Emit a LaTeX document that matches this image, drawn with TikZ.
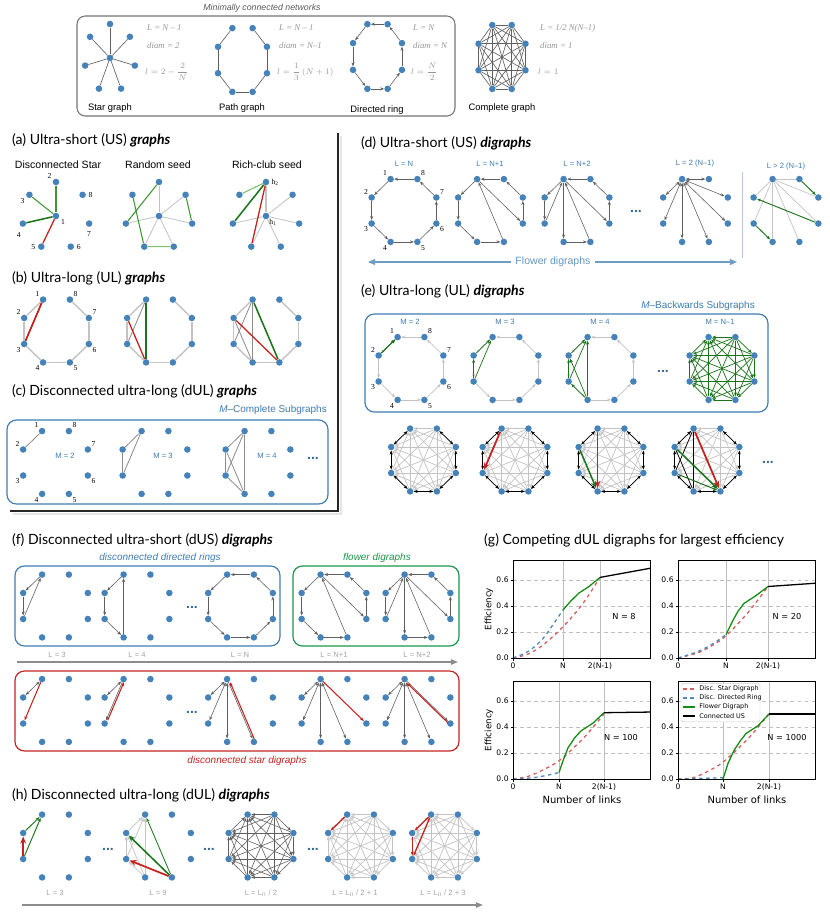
\documentclass[tikz,border=0pt]{standalone}
\usepackage{amsmath}
\usepackage[no-math]{fontspec}
\setmainfont{Liberation Sans}
\newfontfamily\numfont{Liberation Serif}
\newfontfamily\headfont{Lato}
\newfontfamily\mplfont{DejaVu Sans}
\usetikzlibrary{calc, positioning, arrows.meta}

\definecolor{dotblue}{RGB}{68,130,185}
\definecolor{boxblue}{RGB}{62,124,178}
\definecolor{edgegray}{RGB}{95,95,95}
\definecolor{midgray}{RGB}{140,140,140}
\definecolor{lightedge}{RGB}{195,195,195}
\definecolor{formgray}{RGB}{150,150,150}
\definecolor{dgreen}{RGB}{25,115,25}
\definecolor{mgreen}{RGB}{60,150,50}
\definecolor{lgreen}{RGB}{125,190,110}
\definecolor{dred}{RGB}{195,35,30}
\definecolor{fgreen}{RGB}{25,150,75}
\definecolor{plotred}{RGB}{214,95,95}
\definecolor{plotblue}{RGB}{80,135,195}
\definecolor{plotgreen}{RGB}{20,140,20}

\tikzset{
  vtx/.style={circle, fill=dotblue, inner sep=0pt, minimum size=5.6pt},
  numlbl/.style={font=\numfont\fontsize{6.5}{7}\selectfont, inner sep=0.5pt},
  ptitle/.style={anchor=west, inner sep=0pt, font=\headfont\fontsize{12}{14}\selectfont},
  formula/.style={anchor=west, inner sep=0pt, text=formgray, font=\numfont\itshape\fontsize{7.5}{9}\selectfont},
  gcap/.style={inner sep=0pt, font=\fontsize{8}{9}\selectfont},
  sublbl/.style={inner sep=0pt, text=boxblue, font=\fontsize{6.5}{8}\selectfont},
  llbl/.style={inner sep=0pt, text=midgray!80, font=\fontsize{6.5}{8}\selectfont},
  bdots/.style={inner sep=0pt, text=boxblue!85!black, font=\bfseries\fontsize{12}{12}\selectfont},
  gedge/.style={edgegray, line width=0.55pt},
  medge/.style={midgray, line width=0.7pt},
  pedge/.style={lightedge, line width=1.2pt},
  ledge/.style={lightedge, line width=0.7pt},
  arr/.style={-{Stealth[length=3.4pt,width=2.6pt]}},
  darr/.style={edgegray, line width=0.5pt, arr},
  larr/.style={lightedge, line width=0.6pt, arr},
  biarr/.style={edgegray, line width=0.5pt, {Stealth[length=3.4pt,width=2.6pt]}-{Stealth[length=3.4pt,width=2.6pt]}},
  karr/.style={black, line width=0.6pt, {Stealth[length=3.4pt,width=2.6pt]}-{Stealth[length=3.4pt,width=2.6pt]}},
  rline/.style={dred, line width=1.1pt},
  gline/.style={mgreen, line width=0.9pt},
  gdark/.style={dgreen, line width=1.3pt},
  glight/.style={lgreen, line width=0.9pt},
  rarr/.style={dred, line width=0.9pt, arr},
  rtarr/.style={dred, line width=1.5pt, -{Stealth[length=6pt,width=5pt]}},
  garr/.style={dgreen, line width=0.6pt, arr},
  gtarr/.style={dgreen, line width=1.3pt, -{Stealth[length=5.5pt,width=4.5pt]}},
  flarr/.style={boxblue!75, line width=1.2pt, -{Triangle[length=6pt,width=5pt]}},
  longarr/.style={midgray, line width=1.2pt, -{Triangle[length=6pt,width=4.5pt]}},
  gridc/.style={black!25, line width=0.5pt},
  tickl/.style={inner sep=1pt, font=\mplfont\fontsize{6.5}{7}\selectfont},
  curve/.style={line width=1.1pt},
}

% eight nodes on an octagon: [radii]{name}{x}{y}
\newcommand{\octo}[4][35 and 34]{%
  \foreach \k in {1,...,8}
    \node[vtx] (#2\k) at ($(#3,#4)+({-67.5-45*\k}:#1)$) {};
}
% node numbers round an octagon
\newcommand{\octnum}[1]{%
  \foreach \k/\d in {1/135,2/135,3/225,4/225,5/315,6/315,7/45,8/45}
    \node[numlbl] (#1n\k) at ($(#1\k)+(-\d:8)$) {\k};
}
% centre node and seven around it
\newcommand{\hepta}[3]{%
  \node[vtx] (#11) at (#2,#3) {};
  \foreach \k in {2,...,8}
    \node[vtx] (#1\k) at ($(#11)+({-90-51.43*(\k-2)}:34)$) {};
}
\newcommand{\allpairs}[2]{%
  \foreach \ii in {1,...,7}{
    \pgfmathtruncatemacro{\nxt}{\ii+1}
    \foreach \jj in {\nxt,...,8}
      \draw[#2] (#1\ii) -- (#1\jj);
  }}
\newcommand{\backpairs}[2]{%
  \foreach \ii in {1,...,7}{
    \pgfmathtruncatemacro{\nxt}{\ii+1}
    \foreach \jj in {\nxt,...,8}
      \draw[#2] (#1\jj) -- (#1\ii);
  }}
\newcommand{\upath}[2]{\foreach \ii/\jj in {1/2,2/3,3/4,4/5,5/6,6/7,7/8} \draw[#2] (#1\ii) -- (#1\jj);}
\newcommand{\dring}[2]{\foreach \ii/\jj in {8/1,1/2,2/3,3/4,4/5,5/6,6/7,7/8} \draw[#2] (#1\ii) -- (#1\jj);}
\newcommand{\flowerA}[1]{\foreach \ii/\jj in {8/1,1/2,2/3,3/4,4/5,5/1,1/6,6/7,7/8} \draw[darr] (#1\ii) -- (#1\jj);}
\newcommand{\flowerB}[1]{\foreach \ii/\jj in {8/1,1/2,2/3,3/1,1/4,4/5,5/1,1/6,6/7,7/8} \draw[darr] (#1\ii) -- (#1\jj);}
% frame, grid and ticks of an efficiency plot: {name}{x of N}{x of 2(N-1)}
\newcommand{\effaxes}[3]{%
  \foreach \v in {0.2,0.4,0.6}
    \draw[gridc, dashed] (0,\v) -- (137,\v);
  \draw[gridc] (#2,0) -- (#2,0.75);
  \draw[gridc] (#3,0) -- (#3,0.75);
  \foreach \v [count=\i] in {0.0,0.2,0.4,0.6}{
    \draw[line width=0.5pt] (0,\v) -- (-2.5,\v);
    \node[tickl, anchor=east] (#1y\i) at (-3,\v) {\v};
  }
  \foreach \x in {0,#2,#3}
    \draw[line width=0.5pt] (\x,0) -- (\x,-0.02);
  \node[tickl, anchor=north] (#1x1) at (0,-0.025) {0};
  \node[tickl, anchor=north] (#1x2) at (#2,-0.025) {N};
  \node[tickl, anchor=north] (#1x3) at (#3,-0.025) {2(N-1)};
}

\begin{document}
\begin{tikzpicture}[x=0.03cm, y=-0.03cm]
\useasboundingbox (0,0) rectangle (830,913);

%% ---------- Minimally connected networks ----------
\node[inner sep=0pt, text=black!65, font=\itshape\fontsize{7.5}{9}\selectfont] (tmin) at (262,8) {Minimally connected networks};
\draw[black!55, line width=0.9pt, rounded corners=7] (77,16) rectangle (455,116);

% star
\node[vtx] (sc) at (110,58) {};
\foreach \k in {1,...,7}
  \node[vtx] (s\k) at ($(sc)+({-90-51.43*(\k-1)}:25.5 and 34)$) {};
\foreach \k in {1,...,7} \draw[gedge] (sc) -- (s\k);
\node[formula] (fs1) at (147,28) {L = N – 1};
\node[formula] (fs2) at (147,45) {diam = 2};
\node[formula] (fs3) at (145,72) {$l = 2 - \dfrac{2}{N}$};
\node[gcap] (cs) at (110,108) {Star graph};

% path
\octo[26.5 and 34.5]{pg}{242.5}{60}
\upath{pg}{gedge}
\node[formula] (fp1) at (279,28) {L = N – 1};
\node[formula] (fp2) at (279,45) {diam = N–1};
\node[formula] (fp3) at (277,72) {$l = \dfrac{1}{3}\,(N+1)$};
\node[gcap] (cp) at (242,108) {Path graph};

% directed ring
\octo[26.5 and 35]{dr}{377.5}{56.5}
\dring{dr}{darr}
\node[formula] (fr1) at (413,28) {L = N};
\node[formula] (fr2) at (413,45) {diam = N};
\node[formula] (fr3) at (411,72) {$l = \dfrac{N}{2}$};
\node[gcap] (cr) at (377,110) {Directed ring};

% complete
\octo[25.4 and 34.6]{cg}{502}{57}
\allpairs{cg}{gedge}
\node[formula] (fc1) at (540,28) {L = 1/2 N(N–1)};
\node[formula] (fc2) at (540,45) {diam = 1};
\node[formula] (fc3) at (538,72) {$l = 1$};
\node[gcap] (cc) at (502,108) {Complete graph};

%% ---------- frame of (a)-(c) ----------
\draw[black!10, line width=2.5pt] (341,136) -- (341,514) -- (13,514);
\draw[black!85, line width=1pt] (338,133) -- (338,511) -- (10,511);

%% ---------- (a) ----------
\node[ptitle] (ta) at (12,140) {(a) Ultra-short (US) \textbf{\textit{graphs}}};
\node[gcap, font=\fontsize{9}{10}\selectfont] (a1) at (58,165) {Disconnected Star};
\node[gcap, font=\fontsize{9}{10}\selectfont] (a2) at (158,165) {Random seed};
\node[gcap, font=\fontsize{9}{10}\selectfont] (a3) at (267,165) {Rich-club seed};

\hepta{ds}{56}{216}
\hepta{rs}{159}{216}
\hepta{rc}{266}{216}

\node[numlbl, above left=0pt and 1pt of ds2] (dsn2) {2};
\node[numlbl, below left=0pt and 1.5pt of ds3] (dsn3) {3};
\node[numlbl, right=1.5pt of ds8] (dsn8) {8};
\node[numlbl, below right=0pt and 1.5pt of ds1] (dsn1) {1};
\node[numlbl, below left=5pt and -1pt of ds4] (dsn4) {4};
\node[numlbl, below=3pt of ds7] (dsn7) {7};
\node[numlbl, left=1.5pt of ds5] (dsn5) {5};
\node[numlbl, right=1.5pt of ds6] (dsn6) {6};

\draw[gline] (ds1) -- (ds2);
\draw[gline] (ds1) -- (ds3);
\draw[gdark] (ds1) -- (ds4);
\draw[rline] (ds1) -- (ds5);

\foreach \k in {2,4,5,6,7,8} \draw[ledge] (rs1) -- (rs\k);
\draw[gline] (rs3) -- (rs5);
\draw[gline] (rs2) -- (rs4);
\draw[gline] (rs8) -- (rs7);
\draw[glight] (rs5) -- (rs6);

\foreach \k in {4,5,6,7,8} \draw[ledge] (rc1) -- (rc\k);
\draw[lightedge, line width=1.3pt] (rc1) -- (rc2);
\draw[glight] (rc2) -- (rc3);
\draw[gdark] (rc2) -- (rc4);
\draw[rline] (rc2) -- (rc5);
\node[numlbl, right=1pt of rc2] (rch2) {h\textsubscript{2}};
\node[numlbl, below right=0pt and 0pt of rc1] (rch1) {h\textsubscript{1}};

%% ---------- (b) ----------
\node[ptitle] (tb) at (12,278) {(b) Ultra-long (UL) \textbf{\textit{graphs}}};
\octo{ba}{56.5}{331}
\octo{bb}{159.5}{331}
\octo{bc}{266}{331}
\octnum{ba}
\foreach \p in {ba,bb,bc} \upath{\p}{pedge}
\draw[rline] (ba1) -- (ba3);
\draw[medge] (bb1) -- (bb3);
\draw[rline] (bb2) -- (bb4);
\draw[gdark] (bb1) -- (bb4);
\draw[medge] (bc1) -- (bc3);
\draw[medge] (bc2) -- (bc4);
\draw[medge] (bc1) -- (bc4);
\draw[rline] (bc2) -- (bc5);
\draw[gdark] (bc1) -- (bc5);

%% ---------- (c) ----------
\node[ptitle] (tc) at (12,391) {(c) Disconnected ultra-long (dUL) \textbf{\textit{graphs}}};
\node[sublbl, anchor=east, font=\fontsize{8.5}{10}\selectfont] (mcs) at (327,410) {\textit{M}–Complete Subgraphs};
\draw[boxblue, line width=1pt, rounded corners=8] (7,420) rectangle (328,504);
\octo{ca}{55.5}{462.5}
\octo{cb}{155}{462.5}
\octo{cc}{258}{462.5}
\octnum{ca}
\draw[medge] (ca1) -- (ca2);
\foreach \ii/\jj in {1/2,2/3,1/3} \draw[medge] (cb\ii) -- (cb\jj);
\foreach \ii/\jj in {1/2,1/3,1/4,2/3,2/4,3/4} \draw[medge] (cc\ii) -- (cc\jj);
\node[sublbl] (cma) at (65,456) {M = 2};
\node[sublbl] (cmb) at (163,456) {M = 3};
\node[sublbl] (cmc) at (267,456) {M = 4};
\node[bdots] (cdots) at (313,458) {...};

%% ---------- (d) ----------
\node[ptitle] (td) at (361,143) {(d) Ultra-short (US) \textbf{\textit{digraphs}}};
\node[sublbl] (dla) at (404,164) {L = N};
\node[sublbl] (dlb) at (490,164) {L = N+1};
\node[sublbl] (dlc) at (577,164) {L = N+2};
\node[sublbl] (dld) at (695,164) {L = 2 (N–1)};
\node[sublbl] (dle) at (786,167) {L > 2 (N–1)};
\octo{da}{404}{210.5}
\octo{db}{490.5}{210.5}
\octo{dc}{577}{210.5}
\octo{dd}{695.5}{210.5}
\octo{de}{786}{210.5}
\octnum{da}
\dring{da}{darr}
\flowerA{db}
\flowerB{dc}
\foreach \k in {2,...,8} \draw[biarr] (dd1) -- (dd\k);
\foreach \k in {2,...,8} \draw[ledge, line width=0.6pt] (de1) -- (de\k);
\draw[garr, line width=0.8pt] (de8) -- (de7);
\draw[garr, line width=0.8pt] (de6) -- (de2);
\draw[garr, line width=0.8pt] (de3) -- (de4);
\node[bdots] (ddots) at (636,211) {...};
\draw[boxblue!40, line width=0.7pt] (742,172) -- (742,258);
\node[inner sep=0pt, text=boxblue!80, font=\fontsize{9}{10}\selectfont] (flw) at (553,262) {Flower digraphs};
\coordinate (flL) at (368,262);
\coordinate (flR) at (737,262);
\draw[flarr, shorten <=4pt] (flw) -- (flL);
\draw[flarr, shorten <=4pt] (flw) -- (flR);

%% ---------- (e) ----------
\node[ptitle] (te) at (361,291) {(e) Ultra-long (UL) \textbf{\textit{digraphs}}};
\node[sublbl, anchor=east, font=\fontsize{8.5}{10}\selectfont] (mbs) at (755,306) {\textit{M}–Backwards Subgraphs};
\draw[boxblue, line width=1pt, rounded corners=8] (365,314) rectangle (768,412);
\node[sublbl] (ema) at (410,322) {M = 2};
\node[sublbl] (emb) at (505,322) {M = 3};
\node[sublbl] (emc) at (600,322) {M = 4};
\node[sublbl] (emd) at (720,322) {M = N–1};
\octo{ea}{411}{368.5}
\octo{eb}{506}{368.5}
\octo{ec}{601}{368.5}
\octo{ed}{722}{368.5}
\octnum{ea}
\foreach \p in {ea,eb,ec} \dring{\p}{larr}
\draw[garr] (ea2) -- (ea1);
\foreach \ii/\jj in {2/1,3/2,3/1} \draw[garr] (eb\ii) -- (eb\jj);
\foreach \ii/\jj in {2/1,3/1,4/1,3/2,4/2,4/3} \draw[garr] (ec\ii) -- (ec\jj);
\backpairs{ed}{garr}
\node[bdots] (edots) at (663,371) {...};

% second row of (e)
\octo{ef}{423.5}{460}
\octo{eg}{515}{460}
\octo{eh}{611}{460}
\octo{ei}{707}{460}
\foreach \p in {ef,eg,eh,ei}{
  \backpairs{\p}{larr}
  \foreach \ii/\jj in {1/2,2/3,3/4,4/5,5/6,6/7,7/8} \draw[karr] (\p\ii) -- (\p\jj);
}
\draw[rtarr] (eg1) -- (eg3);
\draw[rtarr] (eh1) -- (eh4);
\draw[gtarr] (eh2) -- (eh4);
\foreach \ii/\jj in {1/3,1/4,2/4} \draw[black, line width=0.6pt] (ei\ii) -- (ei\jj);
\draw[rtarr] (ei1) -- (ei5);
\draw[gtarr] (ei2) -- (ei5);
\draw[garr, line width=0.8pt] (ei3) -- (ei5);
\node[bdots] (efdots) at (768,462) {...};

%% ---------- (f) ----------
\node[ptitle] (tf) at (12,540) {(f) Disconnected ultra-short (dUS) \textbf{\textit{digraphs}}};
\node[inner sep=0pt, text=boxblue, font=\itshape\fontsize{8.5}{10}\selectfont] (fdr) at (160,558) {disconnected directed rings};
\node[inner sep=0pt, text=fgreen, font=\itshape\fontsize{8.5}{10}\selectfont] (ffl) at (377,558) {flower digraphs};
\draw[boxblue, line width=1pt, rounded corners=8] (15,566) rectangle (280,646);
\draw[fgreen, line width=1pt, rounded corners=8] (293,566) rectangle (459,646);
\draw[dred, line width=1pt, rounded corners=8] (15,671) rectangle (459,751);

\octo{fa}{55.5}{606}
\octo{fb}{137}{606}
\octo{fc}{240.5}{606}
\octo{fd}{334}{606}
\octo{fe}{418}{606}
\foreach \ii/\jj in {1/2,2/3,3/1} \draw[darr] (fa\ii) -- (fa\jj);
\foreach \ii/\jj in {1/2,2/3,3/4,4/1} \draw[darr] (fb\ii) -- (fb\jj);
\dring{fc}{darr}
\flowerA{fd}
\flowerB{fe}
\node[bdots] (fdots1) at (192,607) {...};

\node[llbl] (fla) at (57,655) {L = 3};
\node[llbl] (flb) at (137,655) {L = 4};
\node[llbl] (flc) at (240,655) {L = N};
\node[llbl] (fld) at (334,655) {L = N+1};
\node[llbl] (fle) at (417,655) {L = N+2};
\coordinate (fst) at (17,662);
\coordinate (fen) at (458,662);
\draw[longarr] (fst) -- (fen);

\octo{fg}{55.5}{710.5}
\octo{fh}{137}{710.5}
\octo{fi}{240.5}{710.5}
\octo{fj}{334}{710.5}
\octo{fk}{418}{710.5}
\draw[biarr] (fg1) -- (fg2);
\draw[rarr] (fg1) -- (fg3);
\draw[biarr] (fh1) -- (fh2);
\draw[darr] (fh1) -- (fh3);
\draw[rarr, transform canvas={xshift=1.4pt}] (fh3) -- (fh1);
\foreach \k in {2,3,4} \draw[biarr] (fi1) -- (fi\k);
\draw[darr] (fi1) -- (fi5);
\draw[rarr, transform canvas={xshift=1.4pt}] (fi5) -- (fi1);
\foreach \k in {2,...,5} \draw[biarr] (fj1) -- (fj\k);
\draw[rarr] (fj1) -- (fj6);
\foreach \k in {2,...,5} \draw[biarr] (fk1) -- (fk\k);
\draw[darr] (fk1) -- (fk6);
\draw[rarr, transform canvas={yshift=-1.4pt}] (fk6) -- (fk1);
\node[bdots] (fdots2) at (192,712) {...};
\node[inner sep=0pt, text=dred, font=\itshape\fontsize{8.5}{10}\selectfont] (fsd) at (247,761) {disconnected star digraphs};

%% ---------- (g) ----------
\node[ptitle] (tg) at (484,540) {(g) Competing dUL digraphs for largest efficiency};
\node[tickl, rotate=90, font=\mplfont\fontsize{7.5}{8}\selectfont] (effa) at (489,609) {Efficiency};
\node[tickl, rotate=90, font=\mplfont\fontsize{7.5}{8}\selectfont] (effb) at (489,730) {Efficiency};
\node[tickl, font=\mplfont\fontsize{8.5}{9}\selectfont] (nla) at (582,800) {Number of links};
\node[tickl, font=\mplfont\fontsize{8.5}{9}\selectfont] (nlb) at (747,800) {Number of links};

% N = 8
\begin{scope}[shift={(513,658)}, y=3.9cm]
\effaxes{pa}{50}{87}
\draw[plotred, curve, dashed] plot[smooth] coordinates {(0,0) (15,0.03) (30,0.1) (50,0.24) (70,0.42) (87,0.62)};
\draw[plotblue, curve, dashed] plot[smooth] coordinates {(0,0) (15,0.05) (30,0.15) (50,0.37)};
\draw[plotgreen, curve] plot coordinates {(50,0.37) (58,0.44) (66,0.5) (76,0.55) (87,0.62)};
\draw[black, curve] (87,0.62) -- (137,0.69);
\draw[line width=0.6pt] (0,0) rectangle (137,0.75);
\node[tickl, font=\mplfont\fontsize{7}{8}\selectfont] (pan) at (111,0.32) {N = 8};
\end{scope}

% N = 20
\begin{scope}[shift={(678,658)}, y=3.9cm]
\effaxes{pb}{48}{90}
\draw[plotred, curve, dashed] plot[smooth] coordinates {(0,0) (20,0.04) (35,0.1) (48,0.17) (70,0.35) (90,0.55)};
\draw[plotblue, curve, dashed] plot[smooth] coordinates {(0,0) (20,0.05) (35,0.11) (48,0.18)};
\draw[plotgreen, curve] plot coordinates {(48,0.18) (55,0.29) (60,0.36) (66,0.42) (78,0.48) (90,0.55)};
\draw[black, curve] (90,0.55) -- (137,0.575);
\draw[line width=0.6pt] (0,0) rectangle (137,0.75);
\node[tickl, font=\mplfont\fontsize{7}{8}\selectfont] (pbn) at (109,0.32) {N = 20};
\end{scope}

% N = 100
\begin{scope}[shift={(513,779)}, y=3.9cm]
\effaxes{pc}{46}{91}
\draw[plotred, curve, dashed] plot[smooth] coordinates {(0,0) (15,0.02) (30,0.07) (46,0.14) (70,0.31) (91,0.5)};
\draw[plotblue, curve, dashed] plot[smooth] coordinates {(0,0) (20,0.01) (35,0.03) (46,0.05)};
\draw[plotgreen, curve] plot coordinates {(46,0.05) (50,0.14) (55,0.24) (62,0.32) (68,0.37) (80,0.43) (91,0.51)};
\draw[black, curve] (91,0.51) -- (137,0.515);
\draw[line width=0.6pt] (0,0) rectangle (137,0.75);
\node[tickl, font=\mplfont\fontsize{7}{8}\selectfont] (pcn) at (108,0.32) {N = 100};
\end{scope}

% N = 1000
\begin{scope}[shift={(678,779)}, y=3.9cm]
\effaxes{pd}{45}{91}
\draw[plotred, curve, dashed] plot[smooth] coordinates {(0,0) (15,0.01) (30,0.06) (45,0.13) (70,0.31) (91,0.5)};
\draw[plotblue, curve, dashed] (0,0) -- (45,0.01);
\draw[plotgreen, curve] plot coordinates {(45,0) (50,0.12) (56,0.22) (62,0.29) (68,0.35) (80,0.41) (91,0.5)};
\draw[black, curve] (91,0.5) -- (137,0.5);
\draw[line width=0.6pt] (0,0) rectangle (137,0.75);
\node[tickl, font=\mplfont\fontsize{7}{8}\selectfont] (pdn) at (109,0.32) {N = 1000};
% legend
\draw[black!20, fill=white, rounded corners=1.5pt] (3,0.735) rectangle (82,0.44);
\foreach \c/\s/\t [count=\i] in {plotred/dashed/Disc. Star Digraph, plotblue/dashed/Disc. Directed Ring, plotgreen/solid/Flower Digraph, black/solid/Connected US}{
  \draw[\c, curve, \s] (5,{0.761-0.069*\i}) -- (17,{0.761-0.069*\i});
  \node[tickl, anchor=west, font=\mplfont\fontsize{5.5}{6}\selectfont] (leg\i) at (20,{0.761-0.069*\i}) {\t};
}
\end{scope}

%% ---------- (h) ----------
\node[ptitle] (th) at (12,795) {(h) Disconnected ultra-long (dUL) \textbf{\textit{digraphs}}};
\octo{ha}{55.5}{846}
\octo{hb}{158.5}{846}
\octo{hc}{261}{846}
\octo{hd}{360.5}{846}
\octo{he}{444.5}{846}
\draw[garr, line width=0.8pt] (ha2) -- (ha1);
\draw[garr, line width=0.8pt] (ha3) -- (ha1);
\draw[rtarr, line width=1.2pt] (ha3) -- (ha2);
\foreach \ii/\jj in {2/1,3/1,4/1,3/2,4/2,4/3} \draw[larr] (hb\ii) -- (hb\jj);
\draw[garr, line width=0.7pt] (hb5) -- (hb1);
\draw[gtarr] (hb5) -- (hb2);
\draw[rtarr] (hb5) -- (hb3);
\backpairs{hc}{darr}
\backpairs{hd}{larr}
\draw[rarr, line width=1.1pt] (hd1) -- (hd2);
\backpairs{he}{larr}
\draw[rarr, line width=1.1pt] (he1) -- (he2);
\draw[rarr, line width=1.1pt] (he1) -- (he3);
\draw[rarr, line width=1.1pt] (he2) -- (he3);
\node[bdots] (hdots1) at (108,849) {...};
\node[bdots] (hdots2) at (209,849) {...};
\node[bdots] (hdots3) at (313,849) {...};

\node[llbl] (hla) at (55,893) {L = 3};
\node[llbl] (hlb) at (158,893) {L = 9};
\node[llbl] (hlc) at (261,893) {L = L$_0$ / 2};
\node[llbl] (hld) at (355,893) {L = L$_0$ / 2 + 1};
\node[llbl] (hle) at (443,893) {L = L$_0$ / 2 + 3};
\coordinate (hst) at (22,905);
\coordinate (hen) at (483,905);
\draw[longarr] (hst) -- (hen);
\end{tikzpicture}
\end{document}
